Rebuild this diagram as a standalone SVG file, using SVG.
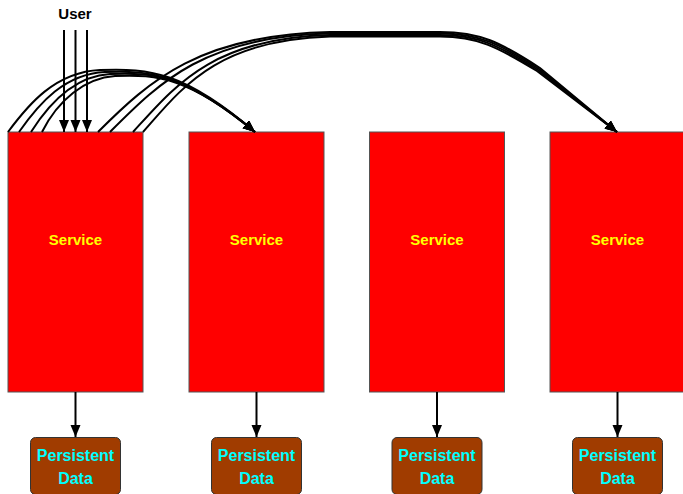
<svg xmlns="http://www.w3.org/2000/svg" width="683" height="494" viewBox="0 0 683 494">
<style>
.svc{fill:#FF0000;stroke:#555555;stroke-width:1}
.svct{fill:#FFFF00;font-family:"Liberation Sans",Arial,sans-serif;font-weight:bold;font-size:15px;text-anchor:middle}
.pd{fill:#A03C00;stroke:#333333;stroke-width:1}
.pdt{fill:#00FFFF;font-family:"Liberation Sans",Arial,sans-serif;font-weight:bold;font-size:16px;text-anchor:middle}
.lbl{fill:#000000;font-family:"Liberation Sans",Arial,sans-serif;font-weight:bold;font-size:15px;text-anchor:middle}
.c{fill:none;stroke:#000000;stroke-width:2;marker-end:url(#ah)}
</style>
<defs>
<marker id="ah" markerUnits="userSpaceOnUse" markerWidth="13" markerHeight="11" refX="12" refY="5" orient="auto">
<path d="M0,0 L12,5 L0,10 z" fill="#000000"/>
</marker>
</defs>
<text class="lbl" x="75" y="19">User</text>
<g id="service1"><rect class="svc" x="8" y="132" width="135" height="260"/><text class="svct" x="75.5" y="245">Service</text></g>
<g id="service2"><rect class="svc" x="189" y="132" width="135" height="260"/><text class="svct" x="256.5" y="245">Service</text></g>
<g id="service3"><rect class="svc" x="369.5" y="132" width="135" height="260"/><text class="svct" x="437" y="245">Service</text></g>
<g id="service4"><rect class="svc" x="550" y="132" width="135" height="260"/><text class="svct" x="617.5" y="245">Service</text></g>
<g id="data1"><rect class="pd" x="30.5" y="437.5" width="90" height="57" rx="5"/><text class="pdt" x="75.5" y="461">Persistent</text><text class="pdt" x="75.5" y="484">Data</text></g>
<g id="data2"><rect class="pd" x="211.5" y="437.5" width="90" height="57" rx="5"/><text class="pdt" x="256.5" y="461">Persistent</text><text class="pdt" x="256.5" y="484">Data</text></g>
<g id="data3"><rect class="pd" x="392" y="437.5" width="90" height="57" rx="5"/><text class="pdt" x="437" y="461">Persistent</text><text class="pdt" x="437" y="484">Data</text></g>
<g id="data4"><rect class="pd" x="572.5" y="437.5" width="90" height="57" rx="5"/><text class="pdt" x="617.5" y="461">Persistent</text><text class="pdt" x="617.5" y="484">Data</text></g>
<g id="connectors">
<path class="c" d="M64,30 L64,132"/>
<path class="c" d="M75.5,30 L75.5,132"/>
<path class="c" d="M87,30 L87,132"/>
<path class="c" d="M75.5,392 L75.5,437"/>
<path class="c" d="M256.5,392 L256.5,437"/>
<path class="c" d="M437,392 L437,437"/>
<path class="c" d="M617.5,392 L617.5,437"/>
<path class="c" d="M8,132 C28,105 55,72 100,70 C150,68 185,72 255,132"/>
<path class="c" d="M19,132 C40,102 65,74 105,72 C150,70 185,74 255,132"/>
<path class="c" d="M31,132 C50,102 75,76 110,74 C155,72 188,76 255,132"/>
<path class="c" d="M42,132 C58,100 85,78 115,76 C158,74 190,78 255,132"/>
<path class="c" d="M98,132 C150,80 200,35 330,32 L440,32 C480,32 500,42 540,68 L617,132"/>
<path class="c" d="M110,132 C160,82 205,36 330,33.5 L440,33.5 C479,33.5 499,43.5 539,69 L617,132"/>
<path class="c" d="M133,132 C175,86 212,38 330,35 L440,35 C478,35 498,45 538,70 L617,132"/>
<path class="c" d="M143,132 C182,88 216,40 330,36.5 L440,36.5 C477,36.5 497,46.5 537,71 L617,132"/>
</g>
</svg>
